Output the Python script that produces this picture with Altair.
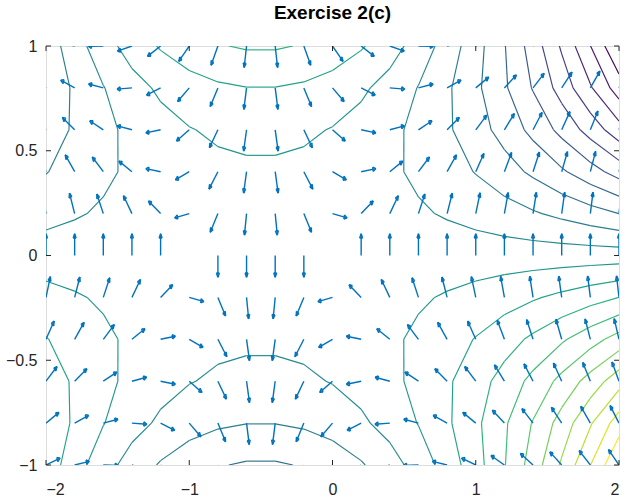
import math
import altair as alt
import pandas as pd

# ---- data (grid, contoured values, vector components), rows from top (y=1) to bottom (y=-1)
X_COLS = [-2.0, -1.8, -1.6, -1.4, -1.2, -1.0, -0.8, -0.6, -0.4, -0.2, 0.0,
          0.2, 0.4, 0.6, 0.8, 1.0, 1.2, 1.4, 1.6, 1.8, 2.0]
Y_ROWS = [1.0, 0.8, 0.6, 0.4, 0.2, 0.0, -0.2, -0.4, -0.6, -0.8, -1.0]

PSI = [
    [-1, -0.44, 0.04, 0.44, 0.76, 1, 1.16, 1.24, 1.24, 1.16, 1, 0.76, 0.44, 0.04, -0.44, -1, -1.64, -2.36, -3.16, -4.04, -5],
    [-1.088, -0.64, -0.256, 0.064, 0.32, 0.512, 0.64, 0.704, 0.704, 0.64, 0.512, 0.32, 0.064, -0.256, -0.64, -1.088, -1.6, -2.176, -2.816, -3.52, -4.288],
    [-0.984, -0.648, -0.36, -0.12, 0.072, 0.216, 0.312, 0.36, 0.36, 0.312, 0.216, 0.072, -0.12, -0.36, -0.648, -0.984, -1.368, -1.8, -2.28, -2.808, -3.384],
    [-0.736, -0.512, -0.32, -0.16, -0.032, 0.064, 0.128, 0.16, 0.16, 0.128, 0.064, -0.032, -0.16, -0.32, -0.512, -0.736, -0.992, -1.28, -1.6, -1.952, -2.336],
    [-0.392, -0.28, -0.184, -0.104, -0.04, 0.008, 0.04, 0.056, 0.056, 0.04, 0.008, -0.04, -0.104, -0.184, -0.28, -0.392, -0.52, -0.664, -0.824, -1.0, -1.192],
    [0, 0, 0, 0, 0, 0, 0, 0, 0, 0, 0, 0, 0, 0, 0, 0, 0, 0, 0, 0, 0],
    [0.392, 0.28, 0.184, 0.104, 0.04, -0.008, -0.04, -0.056, -0.056, -0.04, -0.008, 0.04, 0.104, 0.184, 0.28, 0.392, 0.52, 0.664, 0.824, 1.0, 1.192],
    [0.736, 0.512, 0.32, 0.16, 0.032, -0.064, -0.128, -0.16, -0.16, -0.128, -0.064, 0.032, 0.16, 0.32, 0.512, 0.736, 0.992, 1.28, 1.6, 1.952, 2.336],
    [0.984, 0.648, 0.36, 0.12, -0.072, -0.216, -0.312, -0.36, -0.36, -0.312, -0.216, -0.072, 0.12, 0.36, 0.648, 0.984, 1.368, 1.8, 2.28, 2.808, 3.384],
    [1.088, 0.64, 0.256, -0.064, -0.32, -0.512, -0.64, -0.704, -0.704, -0.64, -0.512, -0.32, -0.064, 0.256, 0.64, 1.088, 1.6, 2.176, 2.816, 3.52, 4.288],
    [1, 0.44, -0.04, -0.44, -0.76, -1, -1.16, -1.24, -1.24, -1.16, -1, -0.76, -0.44, -0.04, 0.44, 1, 1.64, 2.36, 3.16, 4.04, 5],
]

U = [
    [-3, -2.6, -2.2, -1.8, -1.4, -1, -0.6, -0.2, 0.2, 0.6, 1, 1.4, 1.8, 2.2, 2.6, 3, 3.4, 3.8, 4.2, 4.6, 5],
    [-2.4, -2.08, -1.76, -1.44, -1.12, -0.8, -0.48, -0.16, 0.16, 0.48, 0.8, 1.12, 1.44, 1.76, 2.08, 2.4, 2.72, 3.04, 3.36, 3.68, 4],
    [-1.8, -1.56, -1.32, -1.08, -0.84, -0.6, -0.36, -0.12, 0.12, 0.36, 0.6, 0.84, 1.08, 1.32, 1.56, 1.8, 2.04, 2.28, 2.52, 2.76, 3],
    [-1.2, -1.04, -0.88, -0.72, -0.56, -0.4, -0.24, -0.08, 0.08, 0.24, 0.4, 0.56, 0.72, 0.88, 1.04, 1.2, 1.36, 1.52, 1.68, 1.84, 2],
    [-0.6, -0.52, -0.44, -0.36, -0.28, -0.2, -0.12, -0.04, 0.04, 0.12, 0.2, 0.28, 0.36, 0.44, 0.52, 0.6, 0.68, 0.76, 0.84, 0.92, 1],
    [0, 0, 0, 0, 0, 0, 0, 0, 0, 0, 0, 0, 0, 0, 0, 0, 0, 0, 0, 0, 0],
    [0.6, 0.52, 0.44, 0.36, 0.28, 0.2, 0.12, 0.04, -0.04, -0.12, -0.2, -0.28, -0.36, -0.44, -0.52, -0.6, -0.68, -0.76, -0.84, -0.92, -1],
    [1.2, 1.04, 0.88, 0.72, 0.56, 0.4, 0.24, 0.08, -0.08, -0.24, -0.4, -0.56, -0.72, -0.88, -1.04, -1.2, -1.36, -1.52, -1.68, -1.84, -2],
    [1.8, 1.56, 1.32, 1.08, 0.84, 0.6, 0.36, 0.12, -0.12, -0.36, -0.6, -0.84, -1.08, -1.32, -1.56, -1.8, -2.04, -2.28, -2.52, -2.76, -3],
    [2.4, 2.08, 1.76, 1.44, 1.12, 0.8, 0.48, 0.16, -0.16, -0.48, -0.8, -1.12, -1.44, -1.76, -2.08, -2.4, -2.72, -3.04, -3.36, -3.68, -4],
    [3, 2.6, 2.2, 1.8, 1.4, 1, 0.6, 0.2, -0.2, -0.6, -1, -1.4, -1.8, -2.2, -2.6, -3, -3.4, -3.8, -4.2, -4.6, -5],
]

V = [
    [1, 0.44, -0.04, -0.44, -0.76, -1, -1.16, -1.24, -1.24, -1.16, -1, -0.76, -0.44, -0.04, 0.44, 1, 1.64, 2.36, 3.16, 4.04, 5],
    [1.36, 0.8, 0.32, -0.08, -0.4, -0.64, -0.8, -0.88, -0.88, -0.8, -0.64, -0.4, -0.08, 0.32, 0.8, 1.36, 2, 2.72, 3.52, 4.4, 5.36],
    [1.64, 1.08, 0.6, 0.2, -0.12, -0.36, -0.52, -0.6, -0.6, -0.52, -0.36, -0.12, 0.2, 0.6, 1.08, 1.64, 2.28, 3, 3.8, 4.68, 5.64],
    [1.84, 1.28, 0.8, 0.4, 0.08, -0.16, -0.32, -0.4, -0.4, -0.32, -0.16, 0.08, 0.4, 0.8, 1.28, 1.84, 2.48, 3.2, 4, 4.88, 5.84],
    [1.96, 1.4, 0.92, 0.52, 0.2, -0.04, -0.2, -0.28, -0.28, -0.2, -0.04, 0.2, 0.52, 0.92, 1.4, 1.96, 2.6, 3.32, 4.12, 5, 5.96],
    [2, 1.44, 0.96, 0.56, 0.24, 0, -0.16, -0.24, -0.24, -0.16, 0, 0.24, 0.56, 0.96, 1.44, 2, 2.64, 3.36, 4.16, 5.04, 6],
    [1.96, 1.4, 0.92, 0.52, 0.2, -0.04, -0.2, -0.28, -0.28, -0.2, -0.04, 0.2, 0.52, 0.92, 1.4, 1.96, 2.6, 3.32, 4.12, 5, 5.96],
    [1.84, 1.28, 0.8, 0.4, 0.08, -0.16, -0.32, -0.4, -0.4, -0.32, -0.16, 0.08, 0.4, 0.8, 1.28, 1.84, 2.48, 3.2, 4, 4.88, 5.84],
    [1.64, 1.08, 0.6, 0.2, -0.12, -0.36, -0.52, -0.6, -0.6, -0.52, -0.36, -0.12, 0.2, 0.6, 1.08, 1.64, 2.28, 3, 3.8, 4.68, 5.64],
    [1.36, 0.8, 0.32, -0.08, -0.4, -0.64, -0.8, -0.88, -0.88, -0.8, -0.64, -0.4, -0.08, 0.32, 0.8, 1.36, 2, 2.72, 3.52, 4.4, 5.36],
    [1, 0.44, -0.04, -0.44, -0.76, -1, -1.16, -1.24, -1.24, -1.16, -1, -0.76, -0.44, -0.04, 0.44, 1, 1.64, 2.36, 3.16, 4.04, 5],
]

LEVELS = [-4.5238, -4.0476, -3.5714, -3.0952, -2.6190, -2.1429, -1.6667, -1.1905,
          -0.7143, -0.2381, 0.2381, 0.7143, 1.1905, 1.6667, 2.1429, 2.6190,
          3.0952, 3.5714, 4.0476, 4.5238]

X_TICKS = [-2, -1, 0, 1, 2]
Y_TICKS = [-1, -0.5, 0, 0.5, 1]
TITLE = "Exercise 2(c)"

# ---- styling
W, H = 573, 419
ARROW_LEN = 0.104      # arrow length in data units (normalised vectors)
HEAD = 0.2             # arrow head length as fraction of arrow length
HEAD_W = 0.1           # arrow head half-width as fraction of arrow length
FONT = "Liberation Sans"
AXIS_COLOR = "#262626"
ARROW_COLOR = "#0072BD"

# ---- contour segments (marching squares over the grid)
segs = []
for i in range(len(Y_ROWS) - 1):
    for j in range(len(X_COLS) - 1):
        pts_c = [(X_COLS[j], Y_ROWS[i]), (X_COLS[j + 1], Y_ROWS[i]),
                 (X_COLS[j + 1], Y_ROWS[i + 1]), (X_COLS[j], Y_ROWS[i + 1])]
        zs = [PSI[i][j], PSI[i][j + 1], PSI[i + 1][j + 1], PSI[i + 1][j]]
        for c in LEVELS:
            cross = {}
            for k in range(4):
                a, b = k, (k + 1) % 4
                za, zb = zs[a], zs[b]
                if (za - c) * (zb - c) < 0:
                    t = (c - za) / (zb - za)
                    pa, pb = pts_c[a], pts_c[b]
                    cross[k] = (pa[0] + t * (pb[0] - pa[0]), pa[1] + t * (pb[1] - pa[1]))
            pairs = []
            if len(cross) == 2:
                ks = sorted(cross)
                pairs.append((cross[ks[0]], cross[ks[1]]))
            elif len(cross) == 4:
                centre = sum(zs) / 4.0
                if (centre - c) * (zs[0] - c) > 0:
                    pairs += [(cross[0], cross[1]), (cross[2], cross[3])]
                else:
                    pairs += [(cross[3], cross[0]), (cross[1], cross[2])]
            for p, q in pairs:
                segs.append({"x": p[0], "y": p[1], "x2": q[0], "y2": q[1], "level": c})
seg_df = pd.DataFrame(segs)

# ---- quiver arrows (shaft + head strokes), normalised direction
arrows = []
for i, y in enumerate(Y_ROWS):
    for j, x in enumerate(X_COLS):
        u, v = U[i][j], V[i][j]
        n = math.hypot(u, v)
        if n == 0:
            continue
        du, dv = ARROW_LEN * u / n, ARROW_LEN * v / n
        xe, ye = x + du, y + dv
        xt, yt = x + du * (1 - HEAD), y + dv * (1 - HEAD)
        xa1, ya1 = xt - dv * HEAD_W, yt + du * HEAD_W
        xa2, ya2 = xt + dv * HEAD_W, yt - du * HEAD_W
        arrows.append({"x": x, "y": y, "x2": xe, "y2": ye})
        arrows.append({"x": xa1, "y": ya1, "x2": xe, "y2": ye})
        arrows.append({"x": xa2, "y": ya2, "x2": xe, "y2": ye})
        arrows.append({"x": xa1, "y": ya1, "x2": xa2, "y2": ya2})
arr_df = pd.DataFrame(arrows)

xscale = alt.Scale(domain=[-2, 2], nice=False, zero=False)
yscale = alt.Scale(domain=[-1, 1], nice=False, zero=False)
xaxis = alt.Axis(values=X_TICKS, ticks=False, tickSize=0, domain=False, grid=False,
                 labelFontSize=16, labelFont=FONT, labelColor=AXIS_COLOR,
                 labelPadding=16, format="~g", title=None)
yaxis = alt.Axis(values=Y_TICKS, ticks=False, tickSize=0, domain=False, grid=False,
                 labelFontSize=16, labelFont=FONT, labelColor=AXIS_COLOR,
                 labelPadding=9, format="~g", title=None)

X = lambda f: alt.X(f, type="quantitative", scale=xscale, axis=xaxis)
Y = lambda f: alt.Y(f, type="quantitative", scale=yscale, axis=yaxis)

contours = alt.Chart(seg_df).mark_rule(strokeWidth=1.15, clip=True).encode(
    x=X("x"), y=Y("y"), x2="x2:Q", y2="y2:Q",
    color=alt.Color("level:Q", scale=alt.Scale(scheme="viridis",
                                              domain=[LEVELS[0], LEVELS[-1]]),
                    legend=None),
)

quiver = alt.Chart(arr_df).mark_rule(strokeWidth=1.4, color=ARROW_COLOR, clip=True).encode(
    x=X("x"), y=Y("y"), x2="x2:Q", y2="y2:Q",
)

xt_df = pd.DataFrame({"x": X_TICKS})
yt_df = pd.DataFrame({"y": Y_TICKS})
TL = 5
tick_b = alt.Chart(xt_df).mark_rule(color=AXIS_COLOR, strokeWidth=1).encode(
    x=X("x"), y=alt.value(H), y2=alt.value(H - TL))
tick_t = alt.Chart(xt_df).mark_rule(color=AXIS_COLOR, strokeWidth=1).encode(
    x=X("x"), y=alt.value(0), y2=alt.value(TL))
tick_l = alt.Chart(yt_df).mark_rule(color=AXIS_COLOR, strokeWidth=1).encode(
    y=Y("y"), x=alt.value(0), x2=alt.value(TL))
tick_r = alt.Chart(yt_df).mark_rule(color=AXIS_COLOR, strokeWidth=1).encode(
    y=Y("y"), x=alt.value(W), x2=alt.value(W - TL))

chart = alt.layer(contours, quiver, tick_b, tick_t, tick_l, tick_r).properties(
    width=W, height=H,
    title=alt.Title(TITLE, font=FONT, fontSize=19, fontWeight="bold", color="#000000",
                    anchor="middle", frame="group", baseline="alphabetic", offset=0),
    autosize=alt.AutoSizeParams(type="none"),
    padding={"left": 46, "top": 46, "right": 8, "bottom": 38},
).configure_view(stroke=AXIS_COLOR, strokeWidth=1).configure(background="#ffffff")

chart.save("out.html", embed_options={"renderer": "svg", "actions": False})
